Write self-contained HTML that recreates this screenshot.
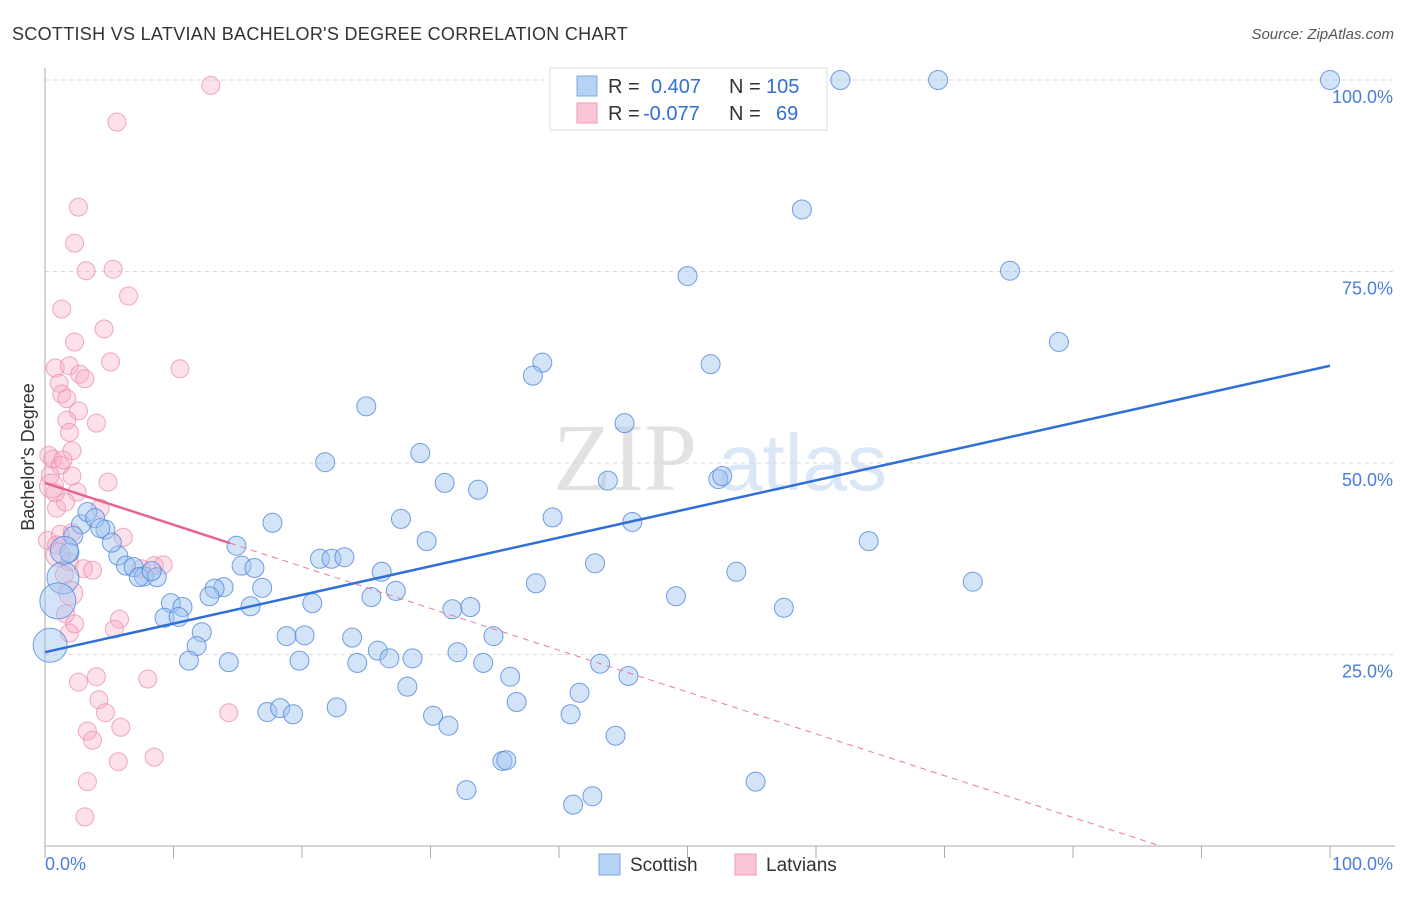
<!DOCTYPE html>
<html><head><meta charset="utf-8"><style>
body{margin:0;background:#fff;font-family:"Liberation Sans",sans-serif;}
</style></head><body>
<svg id="chart" width="1406" height="892" xmlns="http://www.w3.org/2000/svg" font-family="Liberation Sans, sans-serif">
<text x="12" y="40" font-size="18" fill="#333" letter-spacing="0.3">SCOTTISH VS LATVIAN BACHELOR'S DEGREE CORRELATION CHART</text>
<text x="1394" y="39" font-size="15" fill="#555" font-style="italic" text-anchor="end">Source: ZipAtlas.com</text>
<g>
<text x="553" y="490" font-size="96" font-family="Liberation Serif, serif" fill="#e2e2e2">ZIP</text>
<text x="718" y="490" font-size="80" fill="#dbe7f6">atlas</text>
</g>
<g id="grid"></g>
<g id="axes"></g>
<g id="pinkPts"></g>
<g id="bluePts"></g>
<g id="lines"></g>
<text transform="translate(34,457) rotate(-90)" font-size="18" fill="#333" text-anchor="middle">Bachelor's Degree</text>
<text x="45" y="870" font-size="18" fill="#4a7fd6">0.0%</text>
<text x="1393" y="870" font-size="18" fill="#4a7fd6" text-anchor="end">100.0%</text>
<g>
<rect x="550" y="68" width="277" height="62" fill="#fff" stroke="#ddd"/>
<rect x="577" y="76" width="20" height="20" fill="#b7d2f5" stroke="#7aa8e6"/>
<rect x="577" y="103" width="20" height="20" fill="#f9c6d5" stroke="#ef9ab4"/>
<text x="608" y="93" font-size="20" fill="#333">R =</text>
<text x="651" y="93" font-size="20" fill="#2f6fd6">0.407</text>
<text x="729" y="93" font-size="20" fill="#333">N =</text>
<text x="766" y="93" font-size="20" fill="#2f6fd6">105</text>
<text x="608" y="120" font-size="20" fill="#333">R =</text>
<text x="643" y="120" font-size="20" fill="#2f6fd6">-0.077</text>
<text x="729" y="120" font-size="20" fill="#333">N =</text>
<text x="776" y="120" font-size="20" fill="#2f6fd6">69</text>
</g>
<g>
<rect x="599" y="854" width="21" height="21" fill="#b7d2f5" stroke="#7aa8e6"/>
<text x="630" y="871" font-size="19" fill="#333">Scottish</text>
</g>
<g>
<rect x="735" y="854" width="21" height="21" fill="#f9c6d5" stroke="#ef9ab4"/>
<text x="766" y="871" font-size="19" fill="#333">Latvians</text>
</g>
</svg>
<script>
const blueX=[61.9,69.5,100,58.9,50.0,75.1,78.9,51.8,38.7,37.97,25.0,45.1,21.8,29.2,31.1,33.7,43.8,52.4,52.7,39.5,45.7,27.7,17.7,29.7,64.1,14.9,21.4,22.3,23.3,42.8,53.8,26.2,72.2,38.2,27.3,25.4,49.1,57.5,31.7,33.1,20.8,15.3,16.3,16.9,13.9,13.2,12.8,16.0,9.8,10.7,9.3,10.4,12.2,11.8,11.2,14.3,18.8,20.2,23.9,34.9,19.8,24.3,25.9,26.8,28.6,32.1,34.1,43.2,45.4,36.2,28.2,41.6,36.7,22.7,17.3,18.3,19.3,30.2,31.4,40.9,44.4,35.6,35.9,55.3,32.8,42.6,41.1,2.8,3.3,3.9,4.7,4.3,2.2,1.9,5.7,5.2,6.3,6.9,7.7,8.7,7.3,8.3,1.4,1.0,0.4,1.5];
const blueY=[100,100,100,83.1,74.4,75.1,65.8,62.9,63.1,61.4,57.4,55.2,50.1,51.3,47.4,46.5,47.7,47.9,48.3,42.9,42.3,42.7,42.2,39.8,39.8,39.2,37.5,37.5,37.7,36.9,35.8,35.8,34.5,34.3,33.3,32.5,32.6,31.1,30.9,31.2,31.7,36.6,36.3,33.7,33.8,33.6,32.6,31.3,31.7,31.2,29.8,29.9,27.9,26.1,24.2,24.0,27.4,27.5,27.2,27.4,24.2,23.9,25.5,24.5,24.5,25.3,23.9,23.8,22.2,22.1,20.8,20.0,18.8,18.1,17.5,18.0,17.2,17.0,15.7,17.2,14.4,11.1,11.2,8.4,7.3,6.5,5.4,42.0,43.6,42.8,41.3,41.5,40.5,38.3,37.9,39.6,36.6,36.4,35.2,35.1,35.1,35.9,35.0,32.0,26.2,38.6];
const blueBig=[102,103,104,105];
const pinkX=[12.9,5.6,2.6,2.3,3.2,5.3,6.5,1.3,4.6,2.3,5.1,0.8,1.9,2.7,3.1,10.5,1.1,1.3,1.7,2.6,1.7,4.0,1.9,2.1,0.3,0.6,1.2,1.4,0.4,2.1,4.9,0.8,2.5,0.9,1.6,4.3,0.2,1.2,2.1,6.1,0.9,1.9,1.5,3.0,3.7,7.5,8.5,9.2,1.6,2.3,5.8,1.9,5.4,4.0,2.6,8.0,4.2,4.7,14.3,5.9,3.3,3.7,8.5,5.7,3.3,3.1,0.5,1.0,2.0];
const pinkY=[99.3,94.5,83.4,78.7,75.1,75.3,71.8,70.1,67.5,65.8,63.2,62.4,62.7,61.6,61.0,62.3,60.4,59.0,58.4,56.8,55.6,55.2,54.0,51.6,51.0,50.5,49.7,50.4,48.4,48.3,47.5,46.1,46.2,44.1,44.9,44.1,39.9,40.7,40.9,40.3,39.3,37.1,35.4,36.2,36.0,36.2,36.6,36.7,30.3,29.0,29.6,27.8,28.3,22.1,21.4,21.8,19.1,17.4,17.4,15.5,15.0,13.8,11.6,11.0,8.4,3.8,47.0,38.0,33.0];
const blueFit=[25.3,62.7];
const pinkFit=[47.4,-0.546];
const yTicks=[25,50,75,100];
const yTickLabels=["25.0%","50.0%","75.0%","100.0%"];
const xTicks=[0,10,20,30,40,50,60,70,80,90,100];

const X0=45,X1=1330,Y0=846,Y1=80;
const sx=v=>X0+(X1-X0)*v/100;
const sy=v=>Y0-(Y0-Y1)*v/100;
const NS="http://www.w3.org/2000/svg";
function mk(tag,attrs,parent){const e=document.createElementNS(NS,tag);for(const k in attrs)e.setAttribute(k,attrs[k]);parent.appendChild(e);return e;}
const grid=document.getElementById('grid'),axes=document.getElementById('axes');
yTicks.forEach((t,i)=>{
  const l=mk('line',{x1:X0,x2:1395,y1:sy(t),y2:sy(t),stroke:'#d8d8d8','stroke-dasharray':'4,4'},grid);
  
  
  const tx=mk('text',{x:1393,y:sy(t)+23,'font-size':18,fill:'#4a7fd6','text-anchor':'end'},grid);
  tx.textContent=yTickLabels[i];
  
  
});
const ya=mk('line',{x1:X0,x2:X0,y1:68,y2:Y0,stroke:'#aaa'},axes);


const xa=mk('line',{x1:X0,x2:1395,y1:Y0,y2:Y0,stroke:'#aaa'},axes);


xTicks.forEach(t=>{
  const l=mk('line',{x1:sx(t),x2:sx(t),y1:Y0,y2:Y0+12,stroke:'#aaa'},axes);
  
  
});
const pg=document.getElementById('pinkPts');
pinkX.forEach((x,i)=>{
  const c=mk('circle',{cx:sx(x),cy:sy(pinkY[i]),r:i>=66?12:9,fill:'rgba(246,170,196,0.35)',stroke:'rgba(236,140,170,0.75)','stroke-width':1},pg);
  
  
});
const bg=document.getElementById('bluePts');
blueX.forEach((x,i)=>{
  const big=blueBig.indexOf(i)>=0;
  const r=i===102?16:i===103?18:i===104?17:i===105?14:9.5;
  const c=mk('circle',{cx:sx(x),cy:sy(blueY[i]),r:r,fill:'rgba(160,196,240,0.45)',stroke:'rgba(80,135,220,0.8)','stroke-width':1},bg);
  
  
});
const lg=document.getElementById('lines');
const bl=mk('line',{x1:sx(0),y1:sy(blueFit[0]),x2:sx(100),y2:sy(blueFit[1]),stroke:'#2f6fd6','stroke-width':2.5},lg);


const pEnd=-pinkFit[0]/pinkFit[1];
const pd=mk('line',{x1:sx(14.4),y1:sy(pinkFit[0]+pinkFit[1]*14.4),x2:sx(pEnd),y2:sy(0),stroke:'#eb7a9c','stroke-width':1,'stroke-dasharray':'6,5'},lg);


const pl=mk('line',{x1:sx(0),y1:sy(pinkFit[0]),x2:sx(14.4),y2:sy(pinkFit[0]+pinkFit[1]*14.4),stroke:'#e8648e','stroke-width':2.5},lg);


</script>
</body></html>
